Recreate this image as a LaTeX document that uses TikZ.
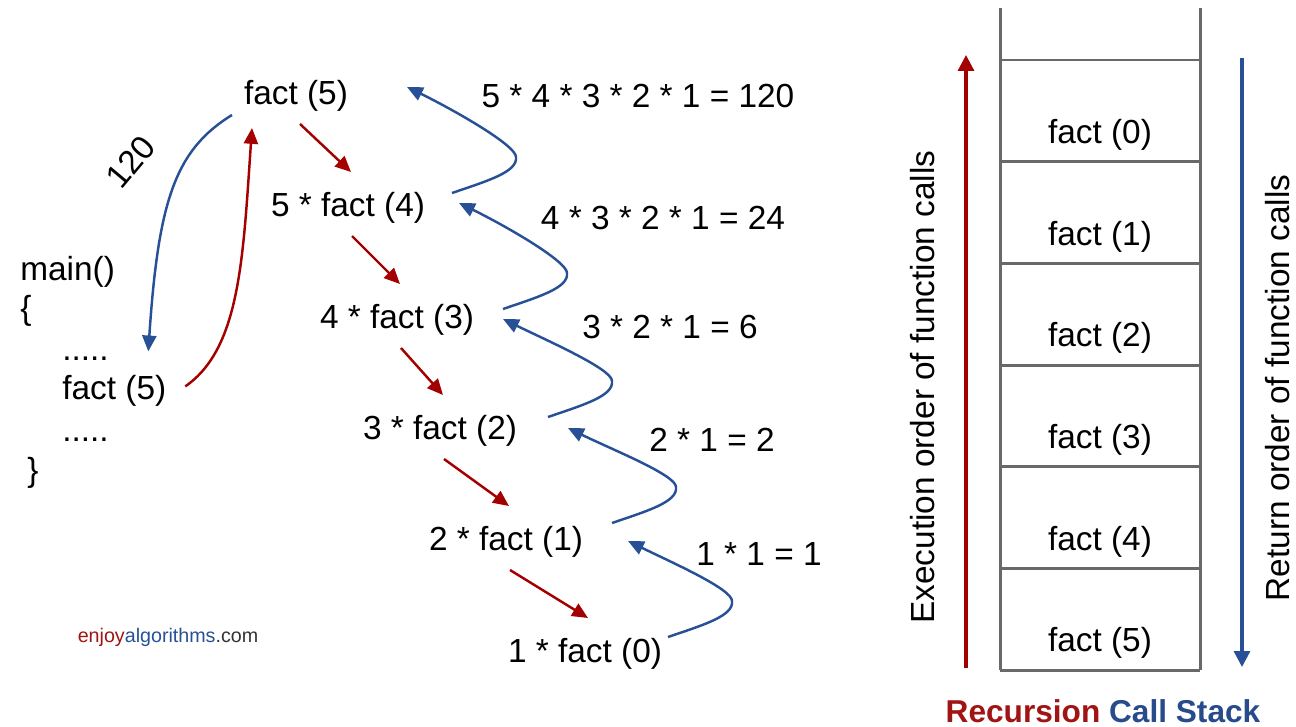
\documentclass[tikz,border=0pt]{standalone}
\usepackage{fontspec}
\setmainfont{Liberation Sans}
\usetikzlibrary{arrows.meta}
\definecolor{callred}{RGB}{165,0,0}
\definecolor{retblue}{RGB}{40,80,150}
\definecolor{stackgray}{RGB}{105,105,105}
\definecolor{titlered}{RGB}{160,20,20}
\definecolor{titleblue}{RGB}{40,75,140}
\begin{document}
\begin{tikzpicture}[x=0.02cm,y=-0.02cm,every node/.style={font=\fontsize{19}{23}\selectfont,inner sep=0pt},
  call/.style={callred,line width=1.4pt,-{Triangle[length=9pt,width=8pt]}},
  ret/.style={retblue,line width=1.4pt,-{Triangle[length=9pt,width=8pt]}},
  order/.style={line width=1.8pt,-{Triangle[length=9pt,width=9pt]}}]
\useasboundingbox (0,0) rectangle (1296,727);
\node (f5) at (296,96) {fact (5)};
\node (f4) at (348,208) {5 * fact (4)};
\node (f3) at (397,320) {4 * fact (3)};
\node (f2) at (440,431) {3 * fact (2)};
\node (f1) at (506,542) {2 * fact (1)};
\node (f0) at (585,654) {1 * fact (0)};
\node (v5) at (638,96) {5 * 4 * 3 * 2 * 1 = 120};
\node (v4) at (663,218) {4 * 3 * 2 * 1 = 24};
\node (v3) at (670,327) {3 * 2 * 1 = 6};
\node (v2) at (712,440) {2 * 1 = 2};
\node (v1) at (759,554) {1 * 1 = 1};
\foreach \a/\b in {f5/f4,f4/f3,f3/f2,f2/f1,f1/f0}
  \draw[call] ([shift={(4,28)}]\a.center) -- ([shift={(3,-36)}]\b.center);
\foreach \a/\b/\sx/\sy/\tx/\ty in {f4/f5/104/-15/111/-9,f3/f4/106/-11/111/-5,f2/f3/108/-14/106/-1,f1/f2/106/-19/128/-3,f0/f1/83/-17/122/-1}
  \draw[ret] ([shift={(\sx,\sy)}]\a.center) .. controls +(35,-12) and +(2,15) .. ++(64,-36)
    .. controls +(0,-12) and +(45,22) .. ([shift={(\tx,\ty)}]\b.center);
\node[anchor=base west] (mainhd) at (20,280) {main()};
\node[anchor=base west] (obrace) at (20,319) {\{};
\node[anchor=base west] (dots1) at (62,360) {.....};
\node[anchor=base west] (callmain) at (62,399) {fact (5)};
\node[anchor=base west] (dots2) at (62,441) {.....};
\node[anchor=base west] (cbrace) at (27,481) {\}};
\node[rotate=50] (res) at (131,162) {120};
\draw[ret] ([shift={(-64,19)}]f5.center) .. controls +(-57,35) and +(10,-150) .. ([shift={(34,-39)}]callmain.center);
\draw[call] ([shift={(71,-4)}]callmain.center) .. controls +(55,-38) and +(-9,130) .. ([shift={(-44,32)}]f5.center);
\node[font=\fontsize{11.2}{13}\selectfont] (site) at (168,637) {\textcolor{titlered}{enjoy}\textcolor{retblue}{algorithms}\textcolor{black!80}{.com}};
\draw[stackgray,line width=1.7pt] (1000,8) -- (1000,670) (1200,8) -- (1200,670);
\foreach \k in {0,...,6}
  \draw[stackgray,line width=1.7pt] (1000,60+101.67*\k) -- (1200,60+101.67*\k);
\foreach \i in {0,...,5}
  \node (s\i) at (1100,135+101.67*\i) {fact (\i)};
\coordinate (exbot) at (966,668);
\coordinate (extop) at (966,55);
\coordinate (rettop) at (1242,58);
\coordinate (retbot) at (1242,667);
\draw[order,callred] (exbot) -- (extop);
\draw[order,retblue] (rettop) -- (retbot);
\node[rotate=90] (exlbl) at (923,387) {Execution order of function calls};
\node[rotate=90] (retlbl) at (1278,388) {Return order of function calls};
\node[font=\fontsize{18}{22}\selectfont\bfseries] (title) at (1103,711) {\textcolor{titlered}{Recursion} \textcolor{titleblue}{Call Stack}};
\end{tikzpicture}
\end{document}
